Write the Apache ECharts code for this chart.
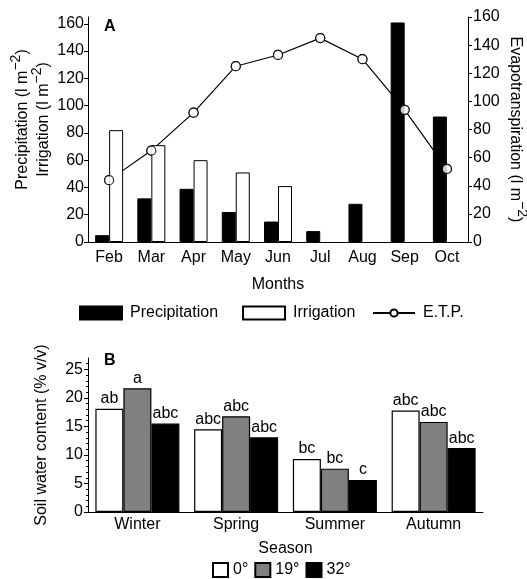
<!DOCTYPE html>
<html>
<head>
<meta charset="utf-8">
<script src="https://cdn.jsdelivr.net/npm/echarts@6/dist/echarts.min.js"></script>
<style>
  html, body { margin: 0; padding: 0; background: #fff; }
  #chart { width: 527px; height: 579px; }
</style>
</head>
<body>
<div id="chart"></div>
<script>
// panel A data
const months = ['Feb', 'Mar', 'Apr', 'May', 'Jun', 'Jul', 'Aug', 'Sep', 'Oct']
const precipitation = [5, 32, 39, 22, 15, 8, 28, 161, 92]
const irrigation = [82, 71, 60, 51, 41, '-', '-', '-', '-']
const etp = [44, 65, 92, 125, 133, 145, 130, 94, 52]
const leftTicks = [0, 20, 40, 60, 80, 100, 120, 140, 160]

// panel B data
const seasons = ['Winter', 'Spring', 'Summer', 'Autumn']
const swc0 = [18.1, 14.5, 9.3, 17.8]
const swc19 = [21.7, 16.8, 7.6, 15.8]
const swc32 = [15.5, 13.1, 5.6, 11.2]
const letters0 = ['ab', 'abc', 'bc', 'abc']
const letters19 = ['a', 'abc', 'bc', 'abc']
const letters32 = ['abc', 'abc', 'c', 'abc']
const soilTicks = [0, 5, 10, 15, 20, 25]

const FONT = 'Liberation Sans, Arial, sans-serif'
const txt = { color: '#000', fontSize: 16, fontFamily: FONT }
// superscript: small line box plus bottom padding lifts it without growing the line
const supRich = {
  n: { fontSize: 16, fontFamily: FONT, color: '#000', lineHeight: 21 },
  s: { fontSize: 14, fontFamily: FONT, color: '#000', lineHeight: 9, padding: [0, 0, 12, 0] },
}
const axisLine = { show: true, lineStyle: { color: '#000', width: 1 } }

const chart = echarts.init(document.getElementById('chart'))

// bar label with significance letters
function letterLabel(list) {
  return {
    show: true,
    position: 'top',
    distance: 2,
    ...txt,
    formatter: p => list[p.dataIndex],
  }
}

const option = {
  animation: false,
  textStyle: { fontFamily: FONT },
  graphic: [
    { type: 'text', left: 104, top: 19, style: { text: 'A', font: 'bold 16px ' + FONT, fill: '#000' } },
    { type: 'text', left: 104, top: 353, style: { text: 'B', font: 'bold 16px ' + FONT, fill: '#000' } },
  ],
  legend: [
    {
      left: 79,
      top: 305,
      padding: 0,
      itemWidth: 42,
      itemHeight: 13,
      itemGap: 24,
      textStyle: { ...txt, padding: [0, 0, 0, 3] },
      data: [
        { name: 'Precipitation', icon: 'rect' },
        { name: 'Irrigation', icon: 'rect' },
      ],
    },
    {
      left: 372,
      top: 305,
      padding: 0,
      itemWidth: 42,
      itemHeight: 9,
      textStyle: { ...txt, padding: [0, 0, 0, 3] },
      data: ['E.T.P.'],
    },
    {
      left: 212,
      top: 562,
      padding: 0,
      itemWidth: 15,
      itemHeight: 14,
      itemGap: 6,
      textStyle: { ...txt },
      data: [
        { name: '0°', icon: 'rect' },
        { name: '19°', icon: 'rect' },
        { name: '32°', icon: 'rect' },
      ],
    },
  ],
  grid: [
    { left: 88, right: 59, top: 17, height: 225, outerBoundsMode: 'none' },
    { left: 88, right: 44, top: 358, height: 154, outerBoundsMode: 'none' },
  ],
  xAxis: [
    {
      type: 'category',
      gridIndex: 0,
      data: months,
      name: 'Months',
      nameLocation: 'middle',
      nameGap: 35,
      nameTextStyle: txt,
      axisLine,
      axisTick: { inside: true, length: 5, lineStyle: { color: '#000' } },
      axisLabel: { ...txt, margin: 8, interval: 0 },
    },
    {
      type: 'category',
      gridIndex: 1,
      data: seasons,
      name: 'Season',
      nameLocation: 'middle',
      nameGap: 29,
      nameTextStyle: txt,
      axisLine,
      axisTick: { inside: true, length: 5, lineStyle: { color: '#000' } },
      axisLabel: { ...txt, margin: 5, interval: 0 },
    },
  ],
  yAxis: [
    {
      type: 'value',
      gridIndex: 0,
      min: 0,
      max: 165,
      interval: 20,
      name: '{n|Precipitation (l m}{s|−2}{n|)}\n{n|Irrigation (l m}{s|−2}{n|)}',
      nameLocation: 'middle',
      nameRotate: 90,
      nameGap: 34,
      nameMoveOverlap: false,
      nameTextStyle: { rich: supRich, padding: [0, 0, 0, 20] },
      axisLine,
      axisTick: { show: true, length: 4, customValues: leftTicks, lineStyle: { color: '#000' } },
      axisLabel: { ...txt, margin: 4, customValues: leftTicks },
      splitLine: { show: false },
    },
    {
      type: 'value',
      gridIndex: 0,
      position: 'right',
      min: 0,
      max: 160,
      interval: 20,
      name: '{n|Evapotranspiration (l m}{s|−2}{n|)}',
      nameLocation: 'middle',
      nameRotate: -90,
      nameGap: 37,
      nameMoveOverlap: false,
      nameTextStyle: { rich: supRich },
      axisLine,
      axisTick: { show: true, length: 4, lineStyle: { color: '#000' } },
      axisLabel: { ...txt, margin: 5 },
      splitLine: { show: false },
    },
    {
      type: 'value',
      gridIndex: 1,
      min: 0,
      max: 27,
      interval: 5,
      name: 'Soil water content (% v/v)',
      nameLocation: 'middle',
      nameGap: 38,
      nameTextStyle: txt,
      axisLine,
      axisTick: { show: true, length: 4, customValues: soilTicks, lineStyle: { color: '#000' } },
      minorTick: { show: true, splitNumber: 5, length: 2, lineStyle: { color: '#000' } },
      axisLabel: { ...txt, margin: 5, customValues: soilTicks },
      splitLine: { show: false },
    },
  ],
  series: [
    {
      name: 'E.T.P.',
      type: 'line',
      xAxisIndex: 0,
      yAxisIndex: 1,
      data: etp,
      z: 1,
      symbol: 'circle',
      symbolSize: 9,
      lineStyle: { color: '#000', width: 1.2 },
      itemStyle: { color: '#fff', borderColor: '#000', borderWidth: 1.2 },
    },
    {
      name: 'Precipitation',
      type: 'bar',
      xAxisIndex: 0,
      yAxisIndex: 0,
      data: precipitation,
      z: 2,
      barWidth: 14,
      barGap: '0%',
      itemStyle: { color: '#000', borderColor: '#000', borderWidth: 1 },
    },
    {
      name: 'Irrigation',
      type: 'bar',
      xAxisIndex: 0,
      yAxisIndex: 0,
      data: irrigation,
      z: 2,
      barWidth: 14,
      barGap: '0%',
      itemStyle: { color: '#fff', borderColor: '#000', borderWidth: 1 },
    },
    {
      // markers drawn again on top of the bars
      type: 'scatter',
      xAxisIndex: 0,
      yAxisIndex: 1,
      data: etp,
      z: 3,
      symbol: 'circle',
      symbolSize: 9,
      itemStyle: { color: '#fff', borderColor: '#000', borderWidth: 1.2 },
    },
    {
      name: '0°',
      type: 'bar',
      xAxisIndex: 1,
      yAxisIndex: 2,
      data: swc0,
      barWidth: 28,
      barGap: '0%',
      itemStyle: { color: '#fff', borderColor: '#000', borderWidth: 1.2 },
      label: letterLabel(letters0),
    },
    {
      name: '19°',
      type: 'bar',
      xAxisIndex: 1,
      yAxisIndex: 2,
      data: swc19,
      barWidth: 28,
      barGap: '0%',
      itemStyle: { color: '#808080', borderColor: '#000', borderWidth: 1.2 },
      label: letterLabel(letters19),
    },
    {
      name: '32°',
      type: 'bar',
      xAxisIndex: 1,
      yAxisIndex: 2,
      data: swc32,
      barWidth: 28,
      barGap: '0%',
      itemStyle: { color: '#000', borderColor: '#000', borderWidth: 1.2 },
      label: letterLabel(letters32),
    },
  ],
}

chart.setOption(option)
</script>
</body>
</html>
